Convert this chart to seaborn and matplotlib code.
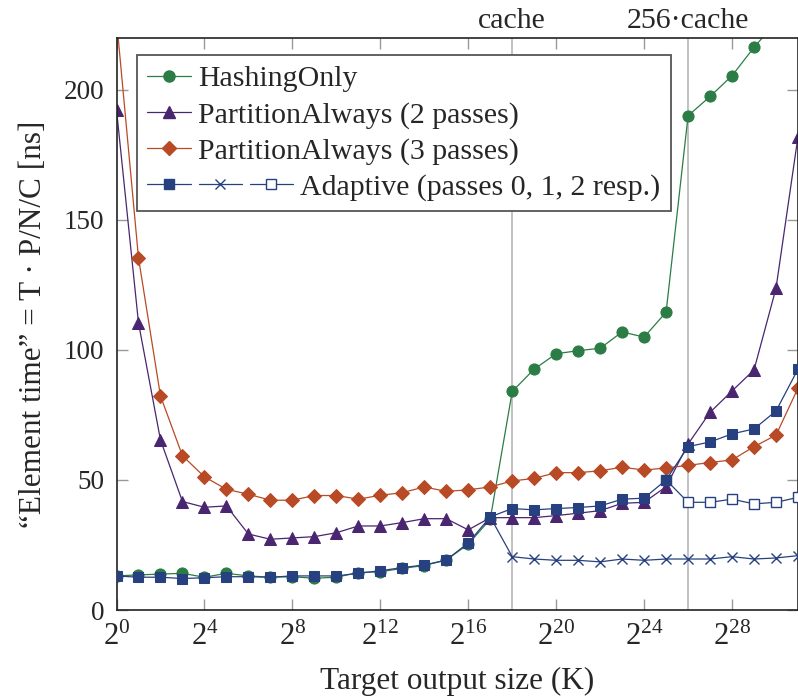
import matplotlib
matplotlib.use("Agg")
import matplotlib.pyplot as plt
import matplotlib.transforms as mtransforms
from matplotlib.lines import Line2D
from matplotlib.legend_handler import HandlerBase
import seaborn as sns

# ---------------- data ----------------
exponents = list(range(32))
hashing_only = [13.1, 13.5, 13.8, 14.1, 12.6, 14.1, 13.1, 12.6, 12.8, 12.2,
                12.6, 14.4, 14.7, 16.0, 17.1, 19.2, 25.3, 34.9, 84.0, 92.6,
                98.5, 99.7, 100.6, 106.9, 104.9, 114.5, 190.0, 197.4, 205.4,
                216.3, 226.0, 238.0]
partition_2 = [192.3, 110.4, 65.4, 41.7, 39.5, 40.0, 29.2, 27.2, 27.7, 28.2,
               29.7, 32.3, 32.3, 33.6, 35.1, 35.1, 30.8, 35.5, 35.5, 35.5,
               36.3, 37.2, 38.2, 41.0, 41.4, 47.4, 63.8, 76.0, 84.2, 92.3,
               123.7, 182.0]
partition_3 = [227.0, 135.4, 82.3, 59.3, 51.2, 46.4, 44.5, 42.2, 42.2, 44.0,
               44.0, 42.6, 44.1, 45.1, 47.3, 45.6, 46.2, 47.3, 49.6, 50.6,
               52.8, 52.8, 53.5, 54.9, 53.8, 54.6, 55.6, 56.7, 57.7, 62.8,
               67.2, 85.3]
adaptive_0 = [13.1, 12.6, 12.6, 12.1, 12.4, 12.8, 12.8, 12.6, 13.1, 13.1,
              13.1, 14.1, 15.1, 16.3, 17.3, 19.2, 25.8, 35.8, 39.0, 38.5,
              39.0, 39.4, 40.0, 42.6, 43.0, 50.0, 62.8, 64.6, 67.7, 69.6,
              76.5, 92.6]
adaptive_1_x = list(range(17, 32))
adaptive_1 = [35.8, 20.5, 19.6, 19.1, 19.1, 18.5, 19.6, 19.1, 19.6, 19.6,
              19.6, 20.5, 19.6, 20.0, 20.9]
adaptive_2_x = list(range(25, 32))
adaptive_2 = [50.0, 41.4, 41.4, 42.6, 40.8, 41.4, 43.3]

xtick_exps = [0, 4, 8, 12, 16, 20, 24, 28]
xtick_labels = [f"$2^{{{e}}}$" for e in xtick_exps]
ytick_vals = [0, 50, 100, 150, 200]
marker_lines = [18, 26]
marker_labels = ["cache", "256·cache"]
legend_labels = ["HashingOnly", "PartitionAlways (2 passes)",
                 "PartitionAlways (3 passes)", "Adaptive (passes 0, 1, 2 resp.)"]

# ---------------- style ----------------
GREEN = "#2b7d45"
PURPLE = "#4a2570"
ORANGE = "#b84a26"
BLUE = "#27407f"
FS_Y = 19.5
FS_X = 22
FS_LAB = 22.5
FS_LEG = 21.5

sns.set_theme(style="ticks")
plt.rcParams["font.family"] = ["Liberation Serif", "DejaVu Serif"]
plt.rcParams["mathtext.fontset"] = "custom"
plt.rcParams["mathtext.rm"] = "Liberation Serif"
plt.rcParams["mathtext.it"] = "Liberation Serif:italic"
plt.rcParams["font.size"] = FS_Y

fig = plt.figure(figsize=(7.98, 7.0), dpi=100)
ax = fig.add_axes([116.5 / 798, 90 / 700, (798 - 116.5) / 798, (610 - 37.7) / 700])

for xv in marker_lines:
    ax.axvline(xv, color="#bdbdbd", lw=1.3, zorder=0.5)

LW = 0.9
sns.lineplot(x=exponents, y=hashing_only, ax=ax, color=GREEN, lw=LW,
             marker="o", markersize=8, markeredgecolor=GREEN,
             markerfacecolor=GREEN, legend=False, zorder=2)
sns.lineplot(x=exponents, y=partition_2, ax=ax, color=PURPLE, lw=LW,
             marker="^", markersize=9, markeredgecolor=PURPLE,
             markerfacecolor=PURPLE, legend=False, zorder=2)
sns.lineplot(x=exponents, y=partition_3, ax=ax, color=ORANGE, lw=LW,
             marker="D", markersize=7, markeredgecolor=ORANGE,
             markerfacecolor=ORANGE, legend=False, zorder=2)
sns.lineplot(x=adaptive_1_x, y=adaptive_1, ax=ax, color=BLUE, lw=LW,
             marker="x", markersize=7, markeredgecolor=BLUE,
             markeredgewidth=1.0, legend=False, zorder=3)
sns.lineplot(x=adaptive_2_x, y=adaptive_2, ax=ax, color=BLUE, lw=LW,
             marker="s", markersize=7.5, markeredgecolor=BLUE,
             markerfacecolor="white", markeredgewidth=1.0, legend=False, zorder=3)
sns.lineplot(x=exponents, y=adaptive_0, ax=ax, color=BLUE, lw=LW,
             marker="s", markersize=7.5, markeredgecolor=BLUE,
             markerfacecolor=BLUE, legend=False, zorder=4)

ax.set_xlim(0, 31)
ax.set_ylim(0, 220)
ax.set_xticks(xtick_exps)
ax.set_xticklabels(xtick_labels)
ax.set_yticks(ytick_vals)
ax.tick_params(direction="in", top=True, right=True, length=8, width=1,
               color="#999999", pad=9)
ax.tick_params(axis="y", labelsize=FS_Y)
ax.tick_params(axis="x", labelsize=FS_X, pad=9)
for s in ax.spines.values():
    s.set_color("#222222")
    s.set_linewidth(1.2)

ax.set_xlabel("Target output size (K)", fontsize=FS_LAB, labelpad=11)
ax.set_ylabel("“Element time” = T · P/N/C [ns]", fontsize=FS_LAB, labelpad=11)

trans = mtransforms.blended_transform_factory(ax.transData, ax.transAxes)
for xv, lab in zip(marker_lines, marker_labels):
    ax.text(xv, 1 + 10 / 572, lab, transform=trans, ha="center",
            va="baseline", fontsize=FS_LEG)


# ---------------- legend ----------------
class AdaptiveKey:
    pass


class AdaptiveHandler(HandlerBase):
    def legend_artist(self, legend, orig_handle, fontsize, handlebox):
        w = handlebox.width
        gap = 0.18 * w
        y = (handlebox.height - handlebox.ydescent) / 2
        specs = [("s", BLUE, 7.5), ("x", BLUE, 7), ("s", "white", 7.5)]
        last = None
        for k, (m, mfc, ms) in enumerate(specs):
            x0 = -handlebox.xdescent + k * (w + gap)
            ln = Line2D([x0, x0 + w], [y, y], color=BLUE, lw=LW)
            mk = Line2D([x0 + w / 2], [y], marker=m, markersize=ms,
                        markerfacecolor=mfc, markeredgecolor=BLUE,
                        markeredgewidth=1.0, linestyle="none")
            handlebox.add_artist(ln)
            handlebox.add_artist(mk)
            last = ln
        handlebox.width = 3 * w + 2 * gap
        return last


handles = [
    Line2D([], [], color=GREEN, lw=LW, marker="o", markersize=8,
           markeredgecolor=GREEN, markerfacecolor=GREEN),
    Line2D([], [], color=PURPLE, lw=LW, marker="^", markersize=9,
           markeredgecolor=PURPLE, markerfacecolor=PURPLE),
    Line2D([], [], color=ORANGE, lw=LW, marker="D", markersize=7,
           markeredgecolor=ORANGE, markerfacecolor=ORANGE),
    AdaptiveKey(),
]
leg = ax.legend(handles, legend_labels,
                handler_map={AdaptiveKey: AdaptiveHandler()},
                loc="upper left", bbox_to_anchor=(20.5 / 681.5, 1 - 17.3 / 572.3),
                borderaxespad=0, frameon=True, fancybox=False, framealpha=1,
                edgecolor="#555555", handlelength=1.45, handletextpad=0.25,
                labelspacing=0.3, borderpad=0.35, fontsize=FS_LEG)
leg.get_frame().set_linewidth(1.3)
leg.set_zorder(10)

fig.savefig("out.png", dpi=100)
